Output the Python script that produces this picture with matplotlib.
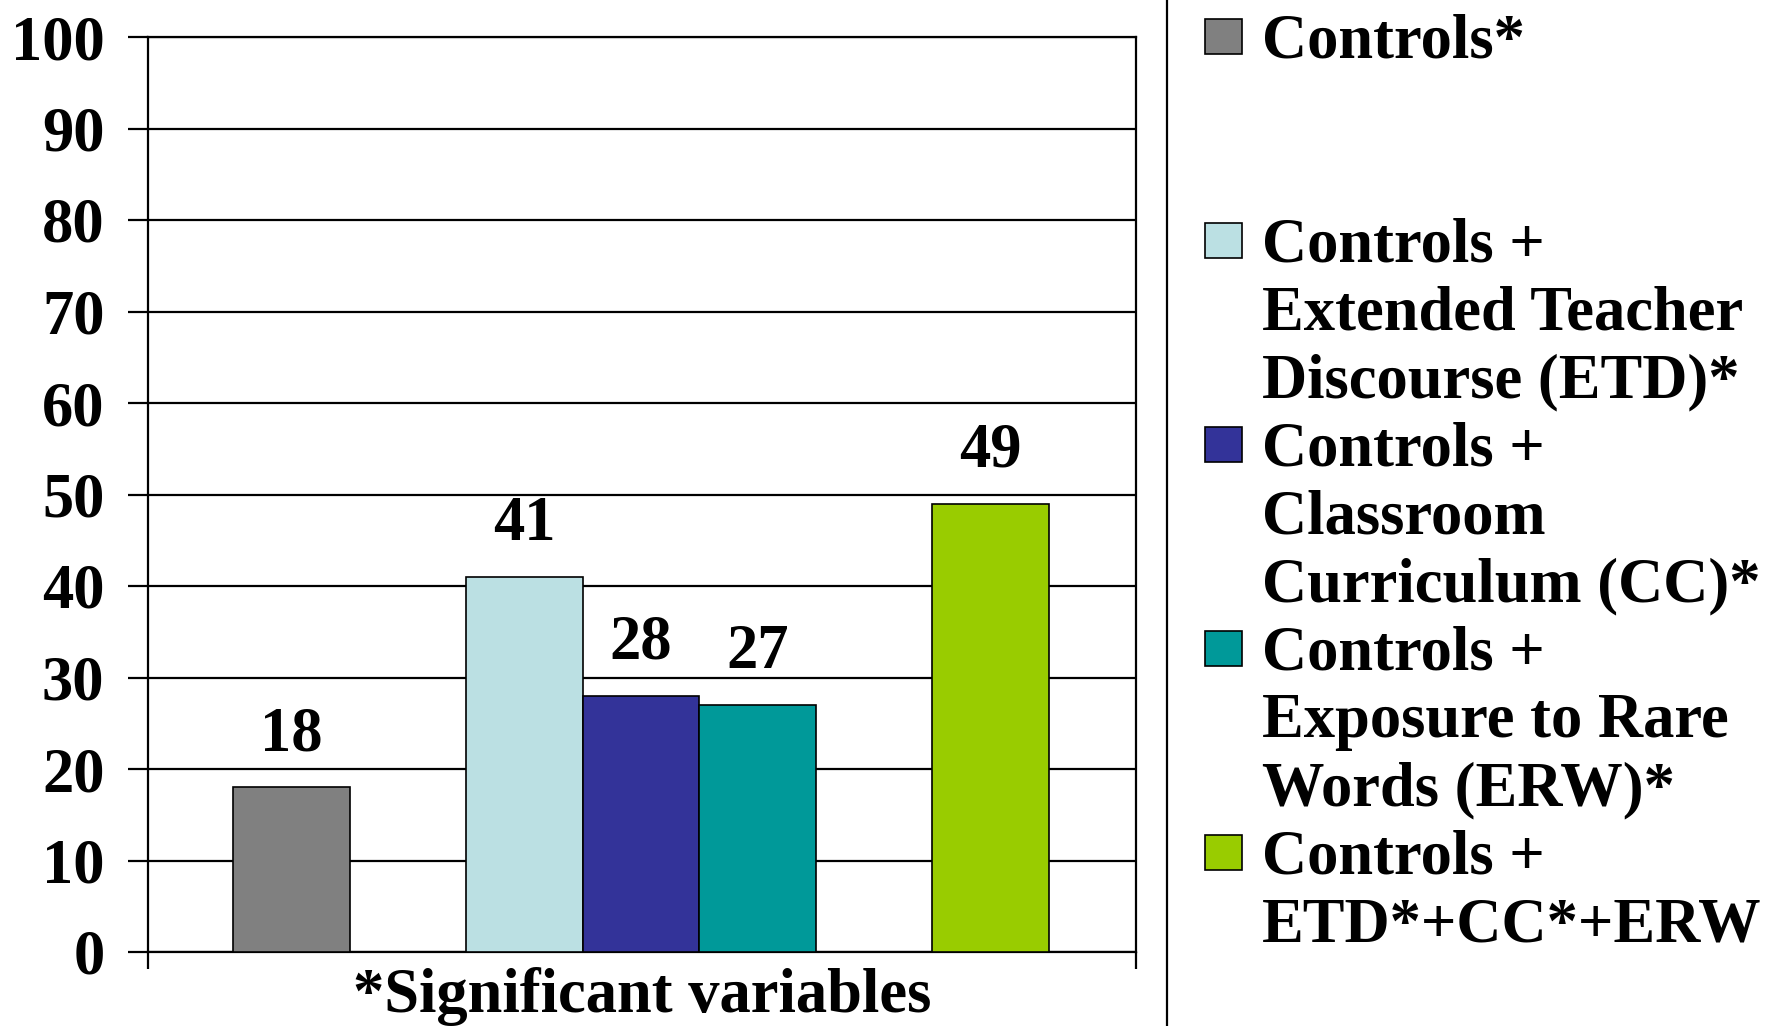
import matplotlib
matplotlib.use('Agg')
import matplotlib.pyplot as plt
from matplotlib.patches import Rectangle
from matplotlib.lines import Line2D

# data
series = ['Controls*',
          'Controls +\nExtended Teacher\nDiscourse (ETD)*',
          'Controls +\nClassroom\nCurriculum (CC)*',
          'Controls +\nExposure to Rare\nWords (ERW)*',
          'Controls +\nETD*+CC*+ERW']
values = [18, 41, 28, 27, 49]
colors = ['#808080', '#BBE0E3', '#333399', '#009999', '#99CC00']
yticks = list(range(0, 101, 10))
xlabel = '*Significant variables'

# slot of each bar inside the single category (gaps left empty)
slots = [0, 2, 3, 4, 6]

plt.rcParams['font.family'] = ['Liberation Serif', 'DejaVu Serif']
plt.rcParams['font.weight'] = 'bold'
plt.rcParams['font.size'] = 45

W, H = 1773, 1026
fig = plt.figure(figsize=(W / 100, H / 100), dpi=100)
ax = fig.add_axes([148 / W, 1 - 952 / H, (1136 - 148) / W, (952 - 37) / H])

ax.bar(slots, values, width=1.0, color=colors, edgecolor='black',
       linewidth=1.2, zorder=3)
ax.set_ylim(0, 100)
ax.set_xlim(-1.23, 7.25)
ax.set_yticks(yticks)
ax.yaxis.grid(True, color='black', linewidth=1.6)
ax.set_axisbelow(True)
for s in ax.spines.values():
    s.set_linewidth(1.6)
ax.tick_params(axis='y', direction='out', length=14.4, width=1.6, pad=17)
ax.set_xticks(ax.get_xlim())
ax.set_xticklabels([])
ax.tick_params(axis='x', direction='out', length=12, width=1.6)

for p, v in zip(slots, values):
    ax.annotate(str(v), (p, v), xytext=(0, 26.6), textcoords='offset points',
                ha='center', va='baseline')

fig.text(642 / W, 1 - 1012 / H, xlabel, ha='center', va='baseline')

# separator between plot and legend
fig.add_artist(Line2D([1167 / W, 1167 / W], [0, 1], transform=fig.transFigure,
                      color='black', linewidth=1.6))

# legend drawn by hand, one text line at a time
for i, (lab, c) in enumerate(zip(series, colors)):
    y0 = 57 + 204 * i
    fig.add_artist(Rectangle((1205 / W, 1 - (y0 - 3) / H), 37 / W, 35 / H,
                             transform=fig.transFigure, facecolor=c,
                             edgecolor='black', linewidth=1.2))
    for j, line in enumerate(lab.split('\n')):
        fig.text(1262 / W, 1 - (y0 + 68 * j) / H, line, va='baseline')

fig.savefig('out.png', dpi=100)
